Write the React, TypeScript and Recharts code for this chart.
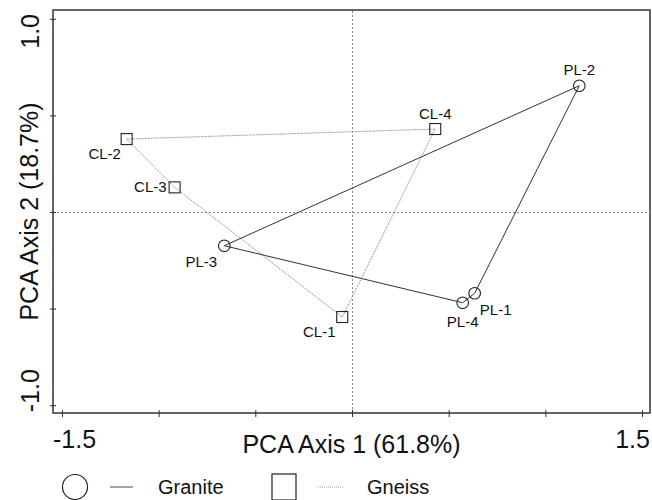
import React from "react";
import {
  ScatterChart,
  Scatter,
  XAxis,
  YAxis,
  ReferenceLine,
  ReferenceArea,
} from "recharts";

// ---- data ----
const graniteNames = ["PL-1", "PL-2", "PL-3", "PL-4"];
const graniteX = [0.632, 1.173, -0.663, 0.57];
const graniteY = [-0.418, 0.656, -0.172, -0.467];
const graniteHull = [2, 1, 0, 3, 2];

const gneissNames = ["CL-1", "CL-2", "CL-3", "CL-4"];
const gneissX = [-0.053, -1.168, -0.92, 0.428];
const gneissY = [-0.541, 0.38, 0.13, 0.432];
const gneissHull = [1, 3, 0, 2, 1];

const xTicks = [-1.5, -1, -0.5, 0, 0.5, 1, 1.5];
const yTicks = [-1, -0.5, 0, 0.5, 1];
const xLabeled = [-1.5, 1.5];
const yLabeled = [-1, 1];
const xTitle = "PCA Axis 1 (61.8%)";
const yTitle = "PCA Axis 2 (18.7%)";
const legendNames = ["Granite", "Gneiss"];

// ---- derived ----
const granite = graniteNames.map((n, i) => ({ name: n, x: graniteX[i], y: graniteY[i] }));
const gneiss = gneissNames.map((n, i) => ({ name: n, x: gneissX[i], y: gneissY[i] }));
const graniteLine = graniteHull.map((i) => granite[i]);
const gneissLine = gneissHull.map((i) => gneiss[i]);

const X_DOMAIN: [number, number] = [-1.549, 1.5388];
const Y_DOMAIN: [number, number] = [-1.0377, 1.048];

const FONT = "'Liberation Sans', Arial, Helvetica, sans-serif";

// label placement (style only)
const labelPos: Record<string, [number, number, string]> = {
  "PL-2": [0, -11, "middle"],
  "CL-4": [0, -10, "middle"],
  "CL-2": [-22, 20, "middle"],
  "CL-3": [-8, 5, "end"],
  "PL-3": [-23, 21, "middle"],
  "CL-1": [-23, 20, "middle"],
  "PL-4": [0, 24, "middle"],
  "PL-1": [21, 22, "middle"],
};

const Label = ({ cx, cy, name }: any) => {
  const p = labelPos[name] || [0, -10, "middle"];
  return (
    <text
      x={cx + p[0]}
      y={cy + p[1]}
      textAnchor={p[2] as any}
      fontFamily={FONT}
      fontSize={15}
      fill="#111"
    >
      {name}
    </text>
  );
};

const CircleShape = (props: any) => {
  const { cx, cy, payload } = props;
  return (
    <g>
      <circle cx={cx} cy={cy} r={5.8} fill="none" stroke="#222" strokeWidth={1.1} />
      <Label cx={cx} cy={cy} name={payload.name} />
    </g>
  );
};

const SquareShape = (props: any) => {
  const { cx, cy, payload } = props;
  return (
    <g>
      <rect x={cx - 5.5} y={cy - 5.5} width={11} height={11} fill="none" stroke="#222" strokeWidth={1.1} />
      <Label cx={cx} cy={cy} name={payload.name} />
    </g>
  );
};

const NoShape = () => <g />;

const XTick = (props: any) => {
  const { x, y, payload } = props;
  const v = payload.value;
  const show = xLabeled.includes(v);
  const anchor = v < 0 ? "start" : "end";
  const tx = v < 0 ? x - 9.5 : x + 7.5;
  return (
    <g>
      <line x1={x} x2={x} y1={y - 3} y2={y + 4} stroke="#333" strokeWidth={1} />
      {show && (
        <text x={tx} y={y + 35} textAnchor={anchor} fontFamily={FONT} fontSize={25} fill="#111">
          {v.toFixed(1)}
        </text>
      )}
    </g>
  );
};

const YTick = (props: any) => {
  const { x, y, payload } = props;
  const v = payload.value;
  const show = yLabeled.includes(v);
  const ty = v > 0 ? y - 5.3 : y + 6.5;
  const anchor = v > 0 ? "end" : "start";
  return (
    <g>
      <line x1={x - 3} x2={x + 3} y1={y} y2={y} stroke="#333" strokeWidth={1} />
      {show && (
        <text
          x={39}
          y={ty}
          transform={`rotate(-90 39 ${ty})`}
          textAnchor={anchor}
          fontFamily={FONT}
          fontSize={25}
          fill="#111"
        >
          {v.toFixed(1)}
        </text>
      )}
    </g>
  );
};

const XTitle = (props: any) => {
  const vb = props.viewBox || { x: 53, y: 413, width: 597 };
  const cx = vb.x + vb.width / 2;
  return (
    <text x={cx} y={vb.y + 40} textAnchor="middle" fontFamily={FONT} fontSize={25} fill="#111">
      {xTitle}
    </text>
  );
};

const YTitle = (props: any) => {
  const vb = props.viewBox || { x: 0, y: 10, height: 403 };
  const cy = vb.y + vb.height / 2;
  return (
    <text
      x={38}
      y={cy}
      transform={`rotate(-90 38 ${cy})`}
      textAnchor="middle"
      fontFamily={FONT}
      fontSize={25}
      fill="#111"
    >
      {yTitle}
    </text>
  );
};

const LegendOverlay = () => (
  <svg
    width={652}
    height={500}
    style={{ position: "absolute", left: 0, top: 0, pointerEvents: "none" }}
  >
    <circle cx={75} cy={487} r={12.5} fill="none" stroke="#222" strokeWidth={1.2} />
    <line x1={110} x2={133} y1={487} y2={487} stroke="#666" strokeWidth={1.2} />
    <text x={158} y={494} fontFamily={FONT} fontSize={20} fill="#111">
      {legendNames[0]}
    </text>
    <rect x={272} y={474} width={24} height={26} fill="none" stroke="#222" strokeWidth={1.2} />
    <line x1={318} x2={343} y1={487} y2={487} stroke="#999" strokeWidth={1} strokeDasharray="1 1" />
    <text x={367} y={494} fontFamily={FONT} fontSize={20} fill="#111">
      {legendNames[1]}
    </text>
  </svg>
);

export default function App() {
  return (
    <div style={{ position: "absolute", left: 0, top: 0, width: 652, height: 500, background: "#fff" }}>
      <ScatterChart width={652} height={500} margin={{ top: 10, right: 2, bottom: 0, left: 0 }}>
        <XAxis
          type="number"
          dataKey="x"
          domain={X_DOMAIN}
          ticks={xTicks}
          interval={0}
          allowDataOverflow
          axisLine={false}
          tickLine={false}
          tickSize={0}
          tickMargin={0}
          height={87}
          tick={<XTick />}
          label={<XTitle />}
        />
        <YAxis
          type="number"
          dataKey="y"
          domain={Y_DOMAIN}
          ticks={yTicks}
          interval={0}
          allowDataOverflow
          axisLine={false}
          tickLine={false}
          tickSize={0}
          tickMargin={0}
          width={53}
          tick={<YTick />}
          label={<YTitle />}
        />
        <ReferenceLine x={0} stroke="#888" strokeWidth={1} strokeDasharray="2 2" />
        <ReferenceLine y={0} stroke="#888" strokeWidth={1} strokeDasharray="2 2" />
        <Scatter
          data={gneissLine}
          line={{ stroke: "#999", strokeWidth: 1, strokeDasharray: "2 1" }}
          lineType="joint"
          shape={<NoShape />}
          isAnimationActive={false}
        />
        <Scatter
          data={graniteLine}
          line={{ stroke: "#333", strokeWidth: 1 }}
          lineType="joint"
          shape={<NoShape />}
          isAnimationActive={false}
        />
        <Scatter data={gneiss} shape={<SquareShape />} isAnimationActive={false} />
        <Scatter data={granite} shape={<CircleShape />} isAnimationActive={false} />
        <ReferenceArea
          x1={X_DOMAIN[0]}
          x2={X_DOMAIN[1]}
          y1={Y_DOMAIN[0]}
          y2={Y_DOMAIN[1]}
          fill="none"
          fillOpacity={0}
          stroke="#333"
          strokeWidth={1.5}
          ifOverflow="visible"
        />
      </ScatterChart>
      <LegendOverlay />
    </div>
  );
}
